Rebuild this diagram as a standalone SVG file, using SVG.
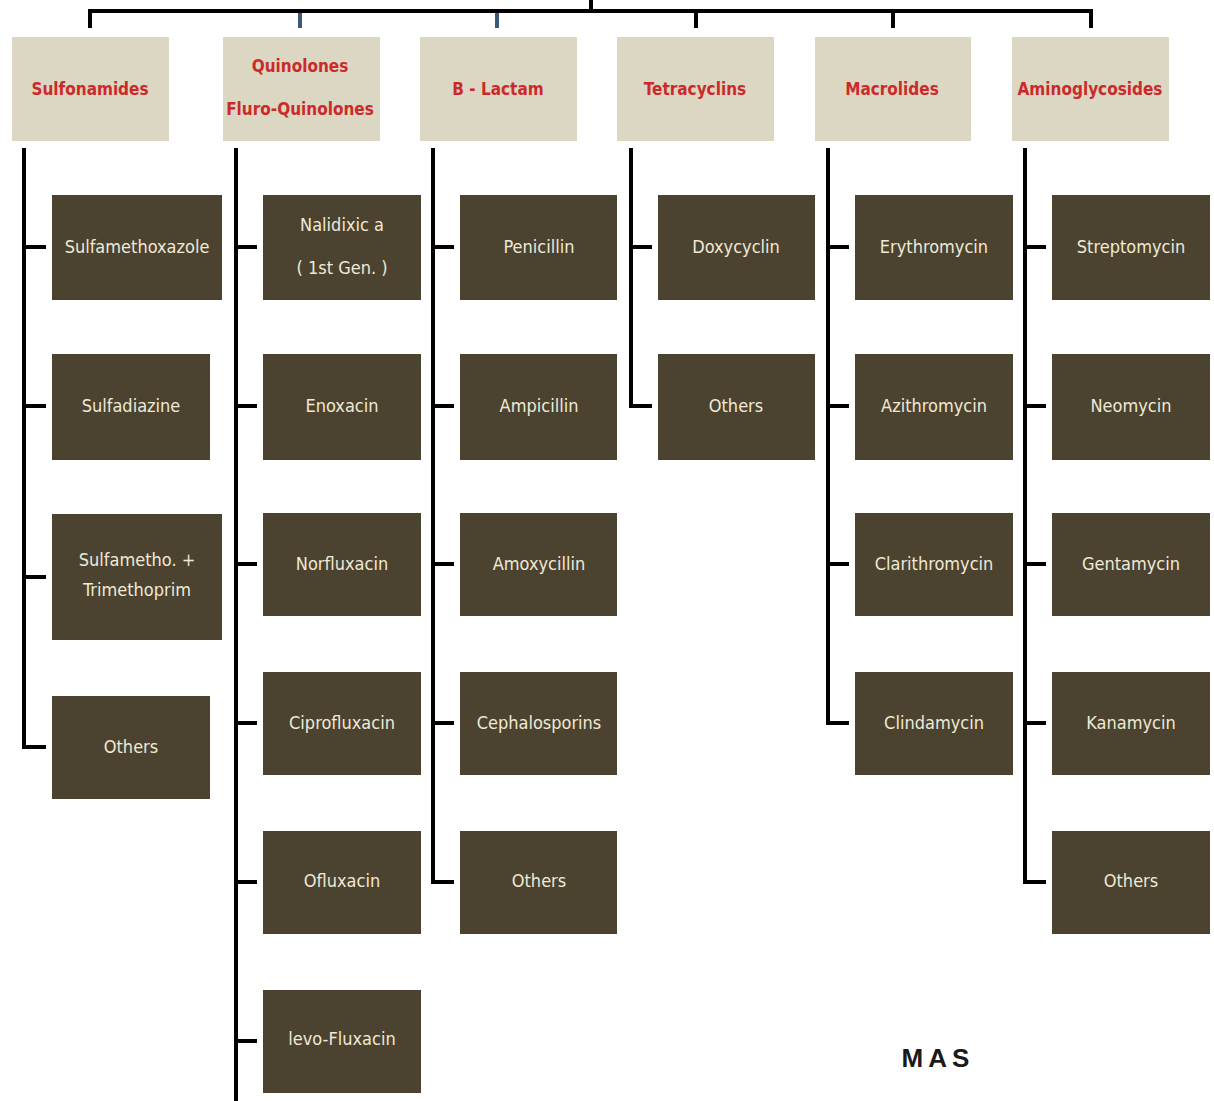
<svg xmlns="http://www.w3.org/2000/svg" width="1214" height="1101" viewBox="0 0 1214 1101">
<style>
.hd{fill:#dcd7c3}
.bx{fill:#4b4330}
.ht{font-family:"DejaVu Sans Condensed","Liberation Sans",sans-serif;font-weight:bold;font-size:17px;fill:#cc2a2a;text-anchor:middle}
.ct{font-family:"DejaVu Sans Condensed","Liberation Sans",sans-serif;font-size:18px;fill:#efe9d6;text-anchor:middle}
.ln{fill:none;stroke:#000;stroke-width:4}
.bl{fill:none;stroke:#3c5a76;stroke-width:4}
</style>
<rect width="1214" height="1101" fill="#fff"/>
<g id="connectors">
<path class="ln" d="M591,0V11M90,28V11H1091V28" stroke-width="5"/>
<path class="ln" d="M696,11V28M893,11V28"/>
<path class="bl" d="M300,13V28M497,13V28"/>
<path class="ln" d="M24,148V747H46M24,247H46M24,406H46M24,577H46"/>
<path class="ln" d="M236,148V1101M236,247H257M236,406H257M236,564H257M236,723H257M236,882H257M236,1041H257"/>
<path class="ln" d="M433,148V882H454M433,247H454M433,406H454M433,564H454M433,723H454"/>
<path class="ln" d="M631,148V406H652M631,247H652"/>
<path class="ln" d="M828,148V723H849M828,247H849M828,406H849M828,564H849"/>
<path class="ln" d="M1025,148V882H1046M1025,247H1046M1025,406H1046M1025,564H1046M1025,723H1046"/>
</g>
<g id="h-sulfonamides"><rect class="hd" x="12" y="37" width="157" height="104"/><text class="ht" x="90" y="95">Sulfonamides</text></g>
<g id="h-quinolones"><rect class="hd" x="223" y="37" width="157" height="104"/><text class="ht" x="300" y="72">Quinolones</text><text class="ht" x="300" y="115">Fluro-Quinolones</text></g>
<g id="h-blactam"><rect class="hd" x="420" y="37" width="157" height="104"/><text class="ht" x="498" y="95">B - Lactam</text></g>
<g id="h-tetracyclins"><rect class="hd" x="617" y="37" width="157" height="104"/><text class="ht" x="695" y="95">Tetracyclins</text></g>
<g id="h-macrolides"><rect class="hd" x="815" y="37" width="156" height="104"/><text class="ht" x="892" y="95">Macrolides</text></g>
<g id="h-aminoglycosides"><rect class="hd" x="1012" y="37" width="157" height="104"/><text class="ht" x="1090" y="95">Aminoglycosides</text></g>

<g id="sulfamethoxazole"><rect class="bx" x="52" y="195" width="170" height="105"/><text class="ct" x="137" y="253">Sulfamethoxazole</text></g>
<g id="sulfadiazine"><rect class="bx" x="52" y="354" width="158" height="106"/><text class="ct" x="131" y="412">Sulfadiazine</text></g>
<g id="sulfametho"><rect class="bx" x="52" y="514" width="170" height="126"/><text class="ct" x="137" y="566">Sulfametho. +</text><text class="ct" x="137" y="596">Trimethoprim</text></g>
<g id="sulfa-others"><rect class="bx" x="52" y="696" width="158" height="103"/><text class="ct" x="131" y="753">Others</text></g>

<g id="nalidixic"><rect class="bx" x="263" y="195" width="158" height="105"/><text class="ct" x="342" y="231">Nalidixic a</text><text class="ct" x="342" y="274">( 1st Gen. )</text></g>
<g id="enoxacin"><rect class="bx" x="263" y="354" width="158" height="106"/><text class="ct" x="342" y="412">Enoxacin</text></g>
<g id="norfluxacin"><rect class="bx" x="263" y="513" width="158" height="103"/><text class="ct" x="342" y="570">Norfluxacin</text></g>
<g id="ciprofluxacin"><rect class="bx" x="263" y="672" width="158" height="103"/><text class="ct" x="342" y="729">Ciprofluxacin</text></g>
<g id="ofluxacin"><rect class="bx" x="263" y="831" width="158" height="103"/><text class="ct" x="342" y="887">Ofluxacin</text></g>
<g id="levo-fluxacin"><rect class="bx" x="263" y="990" width="158" height="103"/><text class="ct" x="342" y="1045">levo-Fluxacin</text></g>

<g id="penicillin"><rect class="bx" x="460" y="195" width="157" height="105"/><text class="ct" x="539" y="253">Penicillin</text></g>
<g id="ampicillin"><rect class="bx" x="460" y="354" width="157" height="106"/><text class="ct" x="539" y="412">Ampicillin</text></g>
<g id="amoxycillin"><rect class="bx" x="460" y="513" width="157" height="103"/><text class="ct" x="539" y="570">Amoxycillin</text></g>
<g id="cephalosporins"><rect class="bx" x="460" y="672" width="157" height="103"/><text class="ct" x="539" y="729">Cephalosporins</text></g>
<g id="blactam-others"><rect class="bx" x="460" y="831" width="157" height="103"/><text class="ct" x="539" y="887">Others</text></g>

<g id="doxycyclin"><rect class="bx" x="658" y="195" width="157" height="105"/><text class="ct" x="736" y="253">Doxycyclin</text></g>
<g id="tetra-others"><rect class="bx" x="658" y="354" width="157" height="106"/><text class="ct" x="736" y="412">Others</text></g>

<g id="erythromycin"><rect class="bx" x="855" y="195" width="158" height="105"/><text class="ct" x="934" y="253">Erythromycin</text></g>
<g id="azithromycin"><rect class="bx" x="855" y="354" width="158" height="106"/><text class="ct" x="934" y="412">Azithromycin</text></g>
<g id="clarithromycin"><rect class="bx" x="855" y="513" width="158" height="103"/><text class="ct" x="934" y="570">Clarithromycin</text></g>
<g id="clindamycin"><rect class="bx" x="855" y="672" width="158" height="103"/><text class="ct" x="934" y="729">Clindamycin</text></g>

<g id="streptomycin"><rect class="bx" x="1052" y="195" width="158" height="105"/><text class="ct" x="1131" y="253">Streptomycin</text></g>
<g id="neomycin"><rect class="bx" x="1052" y="354" width="158" height="106"/><text class="ct" x="1131" y="412">Neomycin</text></g>
<g id="gentamycin"><rect class="bx" x="1052" y="513" width="158" height="103"/><text class="ct" x="1131" y="570">Gentamycin</text></g>
<g id="kanamycin"><rect class="bx" x="1052" y="672" width="158" height="103"/><text class="ct" x="1131" y="729">Kanamycin</text></g>
<g id="amino-others"><rect class="bx" x="1052" y="831" width="158" height="103"/><text class="ct" x="1131" y="887">Others</text></g>

<text x="938" y="1067" font-family="'Liberation Sans',Arial,sans-serif" font-weight="bold" font-size="26" letter-spacing="5" fill="#1a1a1a" text-anchor="middle">MAS</text>
</svg>
